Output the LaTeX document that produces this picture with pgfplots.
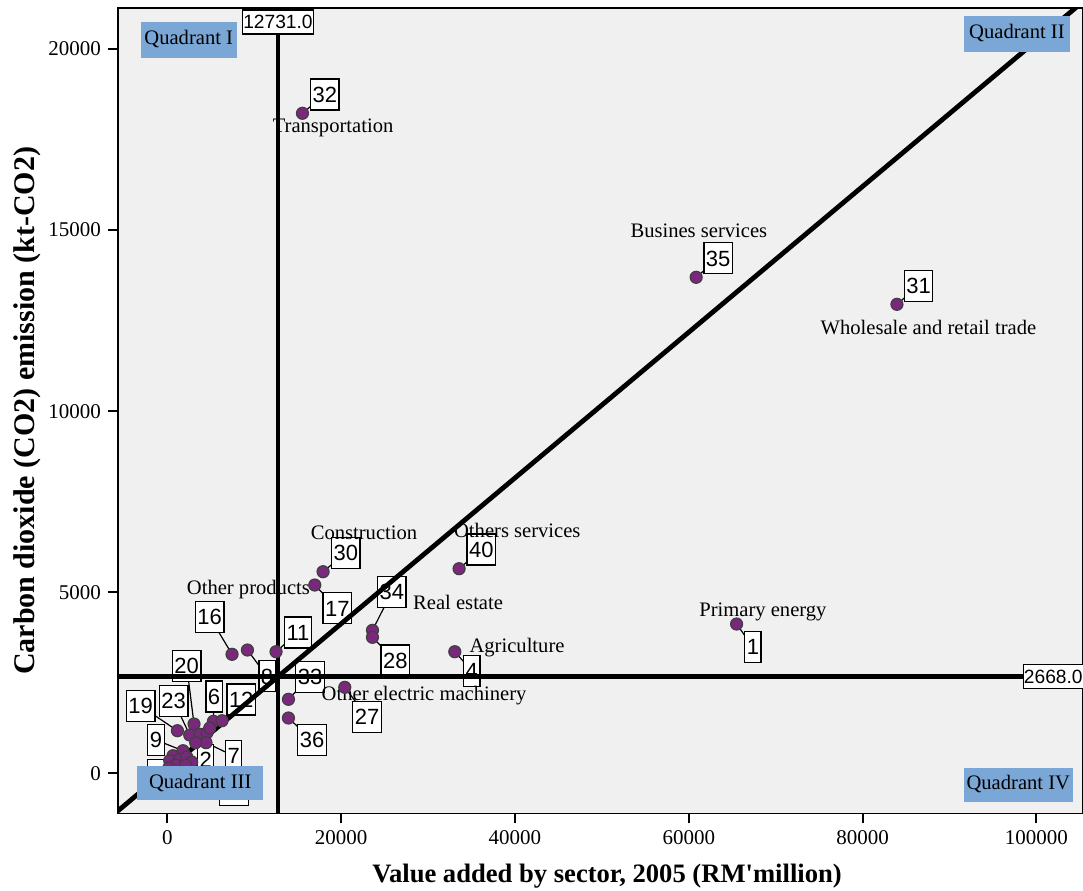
\documentclass[border=0pt]{standalone}
\usepackage{fontspec}
\setmainfont{Liberation Serif}
\newfontfamily\plainserif{Liberation Serif}
\newfontfamily\arialfont{Liberation Sans}
\usepackage{pgfplots}
\pgfplotsset{compat=1.18}
\definecolor{bgray}{RGB}{240,240,240}
\definecolor{qblue}{RGB}{123,167,214}
\definecolor{ptfill}{RGB}{122,40,124}
\definecolor{ptedge}{RGB}{64,64,64}
\tikzset{
  nb/.style={draw=black, fill=white, line width=0.6pt, font=\arialfont\fontsize{11}{13}\selectfont,
     inner xsep=1pt, inner ysep=0pt, minimum height=15.5pt, text height=7.9pt, text depth=0pt},
  vb/.style={draw=black, fill=white, line width=0.6pt, font=\arialfont\fontsize{9.6}{11}\selectfont,
     inner xsep=0.3pt, inner ysep=0pt, minimum height=12pt, text height=6.9pt, text depth=0pt},
  lab/.style={font=\fontsize{10.3}{12}\selectfont, inner sep=0pt},
  quad/.style={fill=qblue, font=\fontsize{10.3}{12}\selectfont, inner sep=0pt, text height=7pt, text depth=2pt},
  ldr/.style={line width=0.6pt, black},
}
\begin{document}
\begin{tikzpicture}
\begin{axis}[
  set layers,
  at={(0,0)}, anchor=south west,
  scale only axis, width=482.25pt, height=402.5pt,
  xmin=-5674, xmax=105305, ymin=-1104, ymax=21122,
  axis background/.style={fill=bgray},
  axis line style={line width=0.8pt},
  tick pos=left, tick align=outside, major tick length=5pt,
  tick style={line width=1pt, black},
  xtick={0,20000,40000,60000,80000,100000}, ytick={0,5000,10000,15000,20000},
  scaled ticks=false,
  /pgf/number format/fixed,
  /pgf/number format/precision=0,
  /pgf/number format/1000 sep={},
  /pgf/number format/assume math mode=true,
  ticklabel style={font=\fontsize{10.5}{12}\selectfont},
  xlabel={Value added by sector, 2005 (RM'million)},
  ylabel={Carbon dioxide (CO2) emission (kt-CO2)},
  xlabel style={font=\plainserif\bfseries\fontsize{13.3}{15}\selectfont, at={(axis description cs:0.507,-0.0783)}, anchor=center},
  ylabel style={font=\plainserif\bfseries\fontsize{15}{17}\selectfont, at={(axis description cs:-0.0943,0.5)}, anchor=center},
]
% reference lines
\addplot[black, line width=2.4pt, forget plot] coordinates {(12731,-1104) (12731,21122)};
\addplot[black, line width=2.4pt, forget plot] coordinates {(-5674,2668) (105305,2668)};
\addplot[black, line width=2.4pt, forget plot] coordinates {(-6000,-1101) (106000,21434)};
% sectors
\addplot[only marks, mark=*, mark size=3pt, mark options={fill=ptfill, draw=ptedge, line width=0.6pt}] table {
x y
65503 4122
83953 12949
60853 13695
15550 18223
33574 5649
17921 5566
16966 5199
23607 3948
23607 3755
33079 3357
20419 2374
7447 3286
9220 3404
12511 3357
13939 2043
13939 1527
1163 1176
3073 1361
2578 1057
3764 1077
4569 1121
4454 845
5306 1436
6296 1452
1807 624
656 486
276 348
1427 387
2233 450
967 229
161 146
2808 312
2118 229
3269 845
4880 1251
};
\begin{pgfonlayer}{pre main}
% leader lines
\draw[ldr] (axis cs:15550,18223) -- (axis cs:18117,18742);
\draw[ldr] (axis cs:60853,13695) -- (axis cs:63386,14219);
\draw[ldr] (axis cs:83953,12949) -- (axis cs:86452,13463);
\draw[ldr] (axis cs:65503,4122) -- (axis cs:67381,3487);
\draw[ldr] (axis cs:33574,5649) -- (axis cs:36130,6179);
\draw[ldr] (axis cs:17921,5566) -- (axis cs:20534,6083);
\draw[ldr] (axis cs:16966,5199) -- (axis cs:19555,4556);
\draw[ldr] (axis cs:23607,3948) -- (axis cs:25828,5006);
\draw[ldr] (axis cs:23607,3755) -- (axis cs:26232,3114);
\draw[ldr] (axis cs:33079,3357) -- (axis cs:35036,2830);
\draw[ldr] (axis cs:20419,2374) -- (axis cs:22985,1560);
\draw[ldr] (axis cs:13939,1527) -- (axis cs:16655,919);
\draw[ldr] (axis cs:13939,2043) -- (axis cs:16425,2667);
\draw[ldr] (axis cs:12511,3357) -- (axis cs:15044,3888);
\draw[ldr] (axis cs:7447,3286) -- (axis cs:4880,4315);
\draw[ldr] (axis cs:9220,3404) -- (axis cs:11475,2678);
\draw[ldr] (axis cs:3073,1361) -- (axis cs:2233,2963);
\draw[ldr] (axis cs:5306,1436) -- (axis cs:5375,2120);
\draw[ldr] (axis cs:6296,1452) -- (axis cs:8506,2038);
\draw[ldr] (axis cs:1163,1176) -- (axis cs:-3062,1858);
\draw[ldr] (axis cs:2578,1057) -- (axis cs:737,1996);
\draw[ldr] (axis cs:1807,624) -- (axis cs:-1301,919);
\draw[ldr] (axis cs:4454,845) -- (axis cs:7643,478);
\draw[ldr] (axis cs:2808,312) -- (axis cs:4420,367);
% number boxes
\node[nb] at (axis cs:18117,18742) {32};
\node[nb] at (axis cs:63386,14219) {35};
\node[nb] at (axis cs:86452,13463) {31};
\node[nb] at (axis cs:67381,3487) {1};
\node[nb] at (axis cs:36130,6179) {40};
\node[nb] at (axis cs:20534,6083) {30};
\node[nb] at (axis cs:19555,4556) {17};
\node[nb] at (axis cs:25828,5006) {34};
\node[nb] at (axis cs:26232,3114) {28};
\node[nb] at (axis cs:35036,2830) {4};
\node[nb] at (axis cs:22985,1560) {27};
\node[nb] at (axis cs:16655,919) {36};
\node[nb] at (axis cs:16425,2667) {33};
\node[nb] at (axis cs:15044,3888) {11};
\node[nb] at (axis cs:4880,4315) {16};
\node[nb] at (axis cs:11475,2678) {8};
\node[nb] at (axis cs:2233,2963) {20};
\node[nb] at (axis cs:5375,2120) {6};
\node[nb] at (axis cs:8506,2038) {12};
\node[nb] at (axis cs:-3062,1858) {19};
\node[nb] at (axis cs:737,1996) {23};
\node[nb] at (axis cs:-1301,919) {9};
\node[nb] at (axis cs:7643,478) {7};
\node[nb] at (axis cs:4420,367) {2};
\node[nb, minimum width=14.5pt] at (axis cs:7643,-461) {};
\node[nb, minimum width=10pt] at (axis cs:-1105,-47) {};
% sector names
\node[lab] at (axis cs:19072,17808) {Transportation};
\node[lab] at (axis cs:61164,14973) {Busines services};
\node[lab] at (axis cs:87576,12313) {Wholesale and retail trade};
\node[lab] at (axis cs:68531,4454) {Primary energy};
\node[lab] at (axis cs:40273,6716) {Others services};
\node[lab] at (axis cs:22629,6654) {Construction};
\node[lab] at (axis cs:9335,5080) {Other products};
\node[lab] at (axis cs:33460,4721) {Real estate};
\node[lab] at (axis cs:40239,3468) {Agriculture};
\node[lab, text height=7pt, text depth=0pt] at (axis cs:29546,2200) {Other electric machinery};
\end{pgfonlayer}
\begin{pgfonlayer}{axis foreground}
\node[quad, minimum width=48pt, minimum height=17.85pt] at (axis cs:2463,20249) {Quadrant I};
\node[quad, minimum width=53pt, minimum height=17.85pt] at (axis cs:97765,20415) {Quadrant II};
\node[quad, minimum width=63.2pt, minimum height=17pt] at (axis cs:3787,-268) {Quadrant III};
\node[quad, minimum width=54.3pt, minimum height=16.9pt] at (axis cs:97916,-318) {Quadrant IV};
\node[vb] at (axis cs:12731,20743) {12731.0};
\node[vb] at (axis cs:101945,2673) {2668.0};
\end{pgfonlayer}
\end{axis}
\pgfresetboundingbox
\path[use as bounding box] (-59pt,-38.35pt) rectangle (482.5pt,406.65pt);
\end{tikzpicture}
\end{document}
